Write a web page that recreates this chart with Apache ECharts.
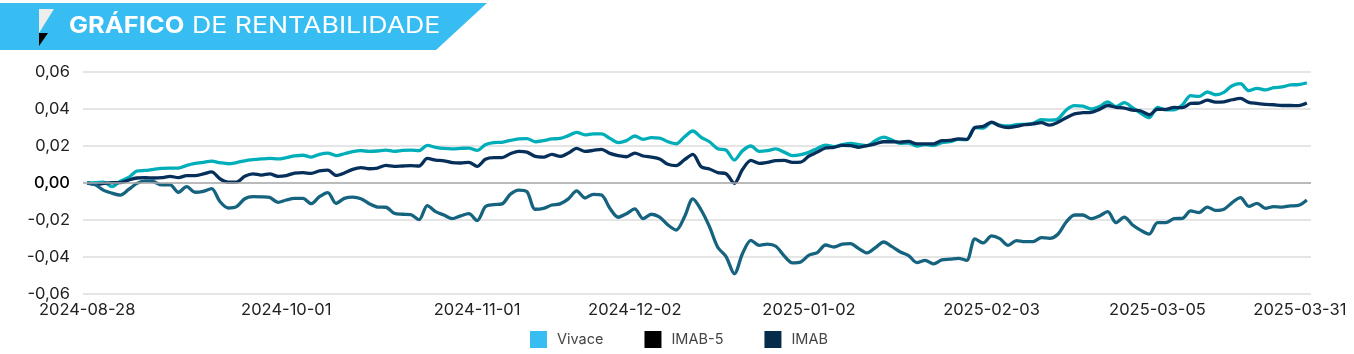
<!DOCTYPE html>
<html>
<head>
<meta charset="utf-8">
<title>Gráfico de rentabilidade</title>
<script src="https://cdn.jsdelivr.net/npm/echarts@6/dist/echarts.min.js"></script>
<style>
    html, body { margin: 0; padding: 0; background: #fff; }
    #chart { width: 1354px; height: 354px; }
</style>
</head>
<body>
<div id="chart"></div>
<script>
const dates = [
    '2024-08-28', '2024-08-29', '2024-08-30',
    '2024-09-02', '2024-09-03', '2024-09-04', '2024-09-05', '2024-09-06',
    '2024-09-09', '2024-09-10', '2024-09-11', '2024-09-12', '2024-09-13',
    '2024-09-16', '2024-09-17', '2024-09-18', '2024-09-19', '2024-09-20',
    '2024-09-23', '2024-09-24', '2024-09-25', '2024-09-26', '2024-09-27', '2024-09-30',
    '2024-10-01', '2024-10-02', '2024-10-03', '2024-10-04',
    '2024-10-07', '2024-10-08', '2024-10-09', '2024-10-10', '2024-10-11',
    '2024-10-14', '2024-10-15', '2024-10-16', '2024-10-17', '2024-10-18',
    '2024-10-21', '2024-10-22', '2024-10-23', '2024-10-24', '2024-10-25',
    '2024-10-28', '2024-10-29', '2024-10-30', '2024-10-31',
    '2024-11-01',
    '2024-11-04', '2024-11-05', '2024-11-06', '2024-11-07', '2024-11-08',
    '2024-11-11', '2024-11-12', '2024-11-13', '2024-11-14',
    '2024-11-18', '2024-11-19', '2024-11-21', '2024-11-22',
    '2024-11-25', '2024-11-26', '2024-11-27', '2024-11-28', '2024-11-29',
    '2024-12-02', '2024-12-03', '2024-12-04', '2024-12-05', '2024-12-06',
    '2024-12-09', '2024-12-10', '2024-12-11', '2024-12-12', '2024-12-13',
    '2024-12-16', '2024-12-17', '2024-12-18', '2024-12-19', '2024-12-20',
    '2024-12-23', '2024-12-24', '2024-12-26', '2024-12-27', '2024-12-30', '2024-12-31',
    '2025-01-02', '2025-01-03',
    '2025-01-06', '2025-01-07', '2025-01-08', '2025-01-09', '2025-01-10',
    '2025-01-13', '2025-01-14', '2025-01-15', '2025-01-16', '2025-01-17',
    '2025-01-20', '2025-01-21', '2025-01-22', '2025-01-23', '2025-01-24',
    '2025-01-27', '2025-01-28', '2025-01-29', '2025-01-30', '2025-01-31',
    '2025-02-03', '2025-02-04', '2025-02-05', '2025-02-06', '2025-02-07',
    '2025-02-10', '2025-02-11', '2025-02-12', '2025-02-13', '2025-02-14',
    '2025-02-17', '2025-02-18', '2025-02-19', '2025-02-20', '2025-02-21',
    '2025-02-24', '2025-02-25', '2025-02-26', '2025-02-27', '2025-02-28',
    '2025-03-05', '2025-03-06', '2025-03-07',
    '2025-03-10', '2025-03-11', '2025-03-12', '2025-03-13', '2025-03-14',
    '2025-03-17', '2025-03-18', '2025-03-19', '2025-03-20', '2025-03-21',
    '2025-03-24', '2025-03-25', '2025-03-26', '2025-03-27', '2025-03-28',
    '2025-03-31'
];

const tickDates = ['2024-08-28', '2024-10-01', '2024-11-01', '2024-12-02', '2025-01-02', '2025-02-03', '2025-03-05', '2025-03-31'];

const vivace = [
    0, .0002, .0005, -.002, .001, .003, .0065, .0068, .0074, .0079,
    .008, .008, .0095, .0106, .0112, .0118, .011, .0104, .011, .012,
    .0126, .013, .0133, .013, .0137,
    .0146, .015, .014, .0155, .0162, .0148, .0158, .017, .0175, .0171,
    .0173, .0178, .0171, .0176, .0178, .0175, .0203, .0193, .0187, .0185,
    .0187, .0189, .0176, .0207, .0218,
    .022, .023, .0238, .024, .0223, .0229, .0238, .0241, .0256, .0274,
    .026, .0266, .0266, .0241, .0218, .0229, .0254, .0236, .0245, .0243,
    .0223, .0212, .025, .0281, .0247,
    .0223, .0185, .0178, .0124, .0175, .02, .0171, .0175, .0184, .0167,
    .0148, .0153, .0166, .0187, .0205, .0196, .0207, .0214, .0207, .0202,
    .0229, .0248, .0232,
    .0214, .0216, .02, .0207, .0203, .0218, .0223, .0236, .0234, .0299,
    .0297, .0326, .0313, .0308, .0315, .0317, .0322, .0342, .034, .0346,
    .0395, .0418, .0416, .04, .0413, .0438, .0413, .0434, .0407, .0377,
    .0353, .0409, .0395, .0396, .0422, .0472, .0468, .0492, .0477, .049,
    .0526, .0537, .0499, .0512, .0503, .0515, .0519, .053, .0532, .0542
];

const imab5 = [
    0, -.0007, -.0002, .0002, .0002, .0016, .0027, .0029, .0027, .0029,
    .0036, .0029, .004, .004, .0049, .006, .0023, .0004, .0005, .0036,
    .0049, .0043, .0049, .0036, .004,
    .0054, .0056, .0052, .0065, .007, .0041, .0054, .0074, .0083, .0077,
    .0081, .0095, .009, .0092, .0094, .0092, .0133, .0124, .012, .011,
    .0108, .0112, .009, .0128, .0137,
    .0137, .0158, .0171, .0167, .0144, .014, .0155, .0144, .0162, .0187,
    .0171, .0176, .0182, .016, .0148, .0142, .0162, .0146, .014, .013,
    .0101, .0094, .0126, .0155, .0088,
    .0076, .0056, .005, -.0002, .0074, .0122, .0106, .0112, .0121, .0122,
    .0112, .0113, .0146, .0167, .0189, .0193, .0203, .0202, .0193, .0202,
    .0212, .0223, .0223,
    .0221, .0225, .0211, .0212, .0211, .0229, .023, .0239, .0236, .03,
    .0306, .0329, .0308, .03, .0306, .0315, .0319, .0326, .0313, .0328,
    .0353, .0374, .038, .0382, .0398, .0419, .0409, .0405, .0394, .0389,
    .0369, .0398, .0398, .0409, .0407, .043, .0432, .0448, .0437, .0439,
    .045, .0457, .0436, .043, .0425, .0423, .0419, .0419, .0418, .0432
];

const imab = [
    0, -.001, -.004, -.0055, -.0065, -.0035, -.0002, .0012, .0007, -.001,
    -.001, -.005, -.002, -.005, -.0045, -.003, -.01, -.0135, -.0128, -.0085,
    -.0074, -.0075, -.0078, -.0105, -.0092,
    -.0083, -.0083, -.0112, -.0074, -.0052, -.011, -.0083, -.0076, -.0085, -.0112,
    -.013, -.0131, -.0164, -.0169, -.0171, -.0198, -.0122, -.0155, -.0173, -.0193,
    -.0178, -.0166, -.0203, -.0128, -.0117,
    -.0113, -.0061, -.0038, -.0047, -.0142, -.0137, -.0119, -.0113, -.0086, -.0043,
    -.0081, -.0061, -.0065, -.0137, -.0185, -.0166, -.014, -.0193, -.0169, -.0185,
    -.0227, -.0254, -.0182, -.0086, -.0146,
    -.0236, -.0347, -.0398, -.0491, -.038, -.031, -.0337, -.033, -.0342, -.0394,
    -.0432, -.0427, -.039, -.0376, -.0335, -.0346, -.0331, -.0328, -.0355, -.0378,
    -.0349, -.0319, -.0344,
    -.0373, -.0392, -.043, -.0418, -.0437, -.0416, -.0412, -.0407, -.0418, -.0302,
    -.0324, -.0286, -.0301, -.0337, -.0311, -.0317, -.0317, -.0295, -.0299, -.0277,
    -.0211, -.0173, -.0173, -.0193, -.0178, -.0155, -.0214, -.0184, -.0227, -.0256,
    -.0276, -.0214, -.0214, -.0193, -.0191, -.0151, -.016, -.013, -.0148, -.0142,
    -.0106, -.0079, -.0126, -.011, -.0137, -.0128, -.013, -.0124, -.0121, -.0092
];

const FONT = 'Inter';
const TEXT_COLOR = '#222';

let chart = echarts.init(document.getElementById('chart'), null, { renderer: 'canvas' });

function makeLine(name, values, color) {
    return {
        name: name,
        type: 'line',
        data: values,
        symbol: 'none',
        smooth: 0.3,
        lineStyle: { color: color, width: 3.3 },
        itemStyle: { color: color }
    };
}

let series = [
    makeLine('Vivace', vivace, '#00AEB9'),
    makeLine('IMAB-5', imab5, '#06305A'),
    makeLine('IMAB', imab, '#16637F')
];

// linha do zero por baixo das series
series[0].markLine = {
    silent: true,
    symbol: 'none',
    label: { show: false },
    lineStyle: { color: '#ababab', width: 1.5, type: 'solid' },
    data: [{ yAxis: 0 }]
};

let option = {
    animation: false,
    backgroundColor: '#fff',
    textStyle: { fontFamily: FONT },
    grid: { left: 83, top: 72, width: 1228, height: 222 },
    legend: {
        left: 530,
        top: 331,
        padding: 0,
        icon: 'rect',
        itemWidth: 17,
        itemHeight: 17,
        itemGap: 41,
        textStyle: { fontFamily: FONT, fontSize: 14.5, color: '#444', padding: [0, 0, 0, 5] },
        data: [
            { name: 'Vivace', itemStyle: { color: '#38BDF2' } },
            { name: 'IMAB-5', itemStyle: { color: '#000' } },
            { name: 'IMAB', itemStyle: { color: '#052C4A' } }
        ]
    },
    xAxis: {
        type: 'category',
        data: dates,
        boundaryGap: true,
        axisLine: { show: false },
        axisTick: { show: false },
        axisLabel: {
            interval: (idx, value) => tickDates.includes(value),
            hideOverlap: false,
            margin: 8,
            color: TEXT_COLOR,
            fontFamily: FONT,
            fontSize: 16.5,
            // a ultima data fica um pouco antes do fim do eixo
            formatter: v => v === '2025-03-31' ? `{last|${v}}` : v,
            rich: { last: { padding: [0, 14, 0, 0], color: TEXT_COLOR, fontFamily: FONT, fontSize: 16.5 } }
        }
    },
    yAxis: {
        type: 'value',
        min: -0.06,
        max: 0.06,
        interval: 0.02,
        axisLine: { show: false },
        axisTick: { show: false },
        axisLabel: {
            margin: 13,
            color: TEXT_COLOR,
            fontFamily: FONT,
            fontSize: 16.5,
            formatter: v => v === 0 ? '{zero|0,00}' : v.toFixed(2).replace('.', ','),
            rich: { zero: { color: '#000', fontFamily: FONT, fontSize: 16.5, fontWeight: 500 } }
        },
        splitLine: { lineStyle: { color: '#dcdcdc', width: 1.5 } }
    },
    graphic: [
        {
            type: 'polygon',
            shape: { points: [[0, 3], [487, 3], [436, 50], [0, 50]] },
            style: { fill: '#38BDF2' }
        },
        {
            type: 'polygon',
            shape: { points: [[39, 9], [54, 9], [39, 33]] },
            style: { fill: '#EDEDED' }
        },
        {
            type: 'polygon',
            shape: { points: [[39, 33], [48, 33], [39, 46]] },
            style: { fill: '#000' }
        },
        {
            type: 'text',
            x: 69,
            y: 26,
            scaleX: 1.106,
            style: { text: 'GRÁFICO', fill: '#fff', fontFamily: FONT, fontSize: 23, fontWeight: 700, verticalAlign: 'middle' }
        },
        {
            type: 'text',
            x: 192,
            y: 26,
            scaleX: 1.16,
            style: { text: 'DE RENTABILIDADE', fill: '#fff', fontFamily: FONT, fontSize: 23, fontWeight: 400, verticalAlign: 'middle' }
        }
    ],
    series: series
};

chart.setOption(option);
</script>
</body>
</html>
